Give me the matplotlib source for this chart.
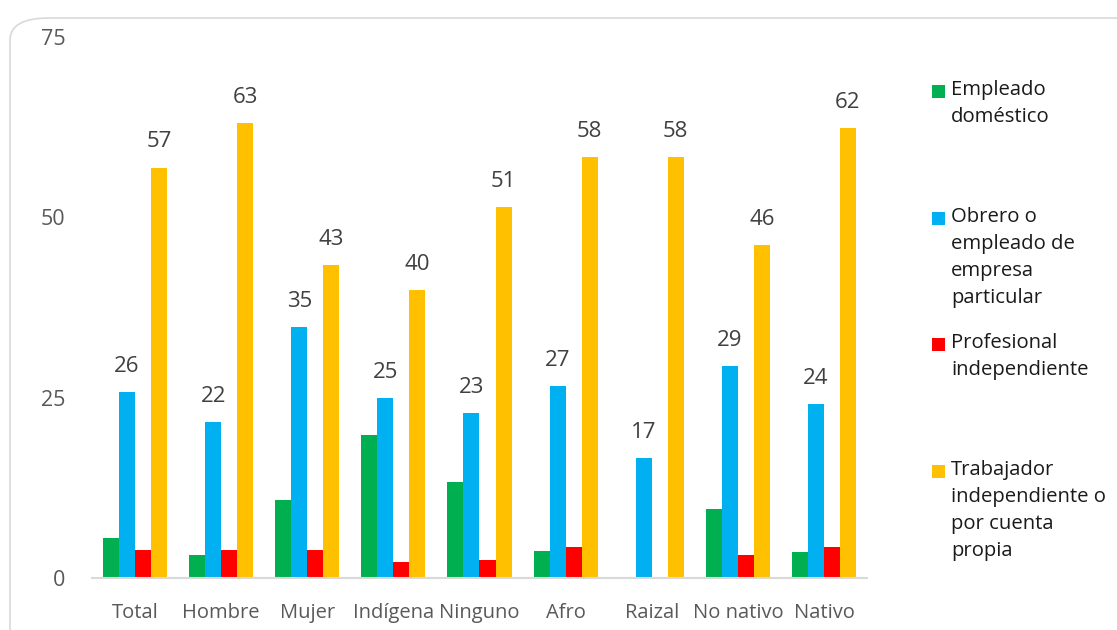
import numpy as np
import matplotlib
matplotlib.use("Agg")
import matplotlib.pyplot as plt
from matplotlib.patches import FancyBboxPatch, Rectangle

plt.rcParams['font.family'] = ['Open Sans', 'DejaVu Sans']

# ========== DATA ==========

categories = ["Total", "Hombre", "Mujer", "Indígena", "Ninguno",
              "Afro", "Raizal", "No nativo", "Nativo"]
series_names = ["Empleado\ndoméstico",
                "Obrero o\nempleado de\nempresa\nparticular",
                "Profesional\nindependiente",
                "Trabajador\nindependiente o\npor cuenta\npropia"]
domestico = [5.5, 3.2, 10.8, 19.8, 13.3, 3.7, 0, 9.6, 3.6]
obrero = [25.8, 21.6, 34.8, 25.0, 22.9, 26.6, 16.6, 29.4, 24.1]
profesional = [3.9, 3.9, 3.9, 2.2, 2.5, 4.3, 0, 3.2, 4.3]
trabajador = [56.9, 63.1, 43.4, 39.9, 51.4, 58.4, 58.4, 46.2, 62.4]
colors = ["#00B050", "#00B0F0", "#FF0000", "#FFC000"]
labelled = [False, True, False, True]

yticks = [0, 25, 50, 75]

# ========== FIGURE ==========

fig = plt.figure(figsize=(11.17, 6.3), dpi=100)
frame = FancyBboxPatch((10 / 1117, -0.1), 1.2, 1 - 18 / 630 + 0.1,
                       boxstyle="round,pad=0,rounding_size=0.035",
                       transform=fig.transFigure, facecolor="none",
                       edgecolor="#d9d9d9", linewidth=1.2, zorder=-5)
fig.patches.append(frame)

ax = fig.add_axes([92 / 1117, 1 - 578 / 630, (867 - 92) / 1117, (578 - 37) / 630])
ax.set_facecolor("none")

x = np.arange(len(categories))
width = 0.186
all_series = [domestico, obrero, profesional, trabajador]

for i, (vals, col) in enumerate(zip(all_series, colors)):
    offs = x + (i - 1.5) * width
    bars = ax.bar(offs, vals, width=width, color=col, zorder=2)
    if labelled[i]:
        for b, v in zip(bars, vals):
            ax.text(b.get_x() + b.get_width() / 2, v + 2.1, f"{v:.0f}",
                    ha="center", va="bottom", fontsize=16, color="#404040")

# ========== AXES ==========

ax.set_xlim(-0.5, len(categories) - 0.5)
ax.set_ylim(0, 75)
ax.set_yticks(yticks)
ax.set_xticks(x)
ax.set_xticklabels(categories)
ax.tick_params(axis="x", length=0, labelsize=14.5, labelcolor="#595959", pad=18)
ax.tick_params(axis="y", length=0, labelsize=15.5, labelcolor="#595959", pad=19)
for s in ["top", "right", "left"]:
    ax.spines[s].set_visible(False)
ax.spines["bottom"].set_color("#d9d9d9")
ax.spines["bottom"].set_linewidth(1.5)

# ========== LEGEND ==========

legend_y = [92, 219, 345, 472]
for name, col, ly in zip(series_names, colors, legend_y):
    fig.patches.append(Rectangle((932 / 1117, 1 - (ly + 6) / 630), 13 / 1117, 13 / 630,
                                 transform=fig.transFigure, facecolor=col,
                                 edgecolor="none"))
    fig.text(951 / 1117, 1 - (ly - 12) / 630, name, ha="left", va="top",
             fontsize=14.6, color="#1a1a1a", linespacing=1.46)

plt.savefig("out.png", dpi=100)
